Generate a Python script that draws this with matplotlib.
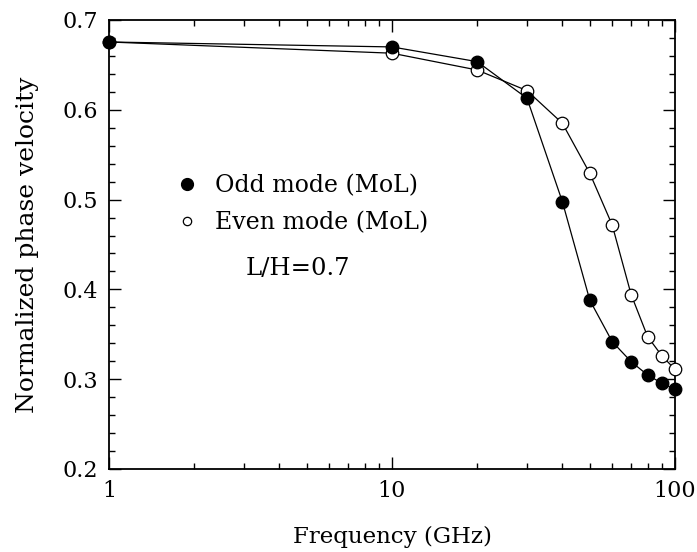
import numpy as np
import matplotlib
matplotlib.use('Agg')
import matplotlib.pyplot as plt
from matplotlib.lines import Line2D
from matplotlib.ticker import FixedLocator, NullFormatter, FixedFormatter

# frequency points (GHz)
freq = [1, 10, 20, 30, 40, 50, 60, 70, 80, 90, 100]

# normalized phase velocity
odd_mode = [0.6755, 0.670, 0.6536, 0.6128, 0.4977, 0.388, 0.3418, 0.3195, 0.3047, 0.2954, 0.2887]
even_mode = [0.6755, 0.663, 0.6443, 0.6213, 0.585, 0.5293, 0.4717, 0.3942, 0.3475, 0.3258, 0.3110]

labels = ['Odd mode (MoL)', 'Even mode (MoL)']
note = 'L/H=0.7'

plt.rcParams['font.family'] = ['DejaVu Serif']

fig = plt.figure(figsize=(6.97, 5.52), dpi=100)
ax = fig.add_axes([0.1564, 0.1504, 0.8120, 0.8134])

# fitted curves
ax.plot(freq, odd_mode, c='k', lw=0.9)
ax.plot(freq, even_mode, c='k', lw=0.9)

# MoL points (filled ones drawn on top, as in the original)
ax.plot(freq, even_mode, 'o', ms=9, mfc='white', mec='k', mew=0.9, ls='none', clip_on=False, zorder=3)
ax.plot(freq, odd_mode, 'o', ms=9, mfc='k', mec='k', ls='none', clip_on=False, zorder=4)

ax.set_xscale('log')
ax.set_xlim(1, 100)
ax.set_ylim(0.2, 0.7)

ax.xaxis.set_major_locator(FixedLocator([1, 10, 100]))
ax.xaxis.set_major_formatter(FixedFormatter(['1', '10', '100']))
minors = [m * d for d in (1, 10) for m in range(2, 10)]
ax.xaxis.set_minor_locator(FixedLocator(minors))
ax.xaxis.set_minor_formatter(NullFormatter())

ax.set_yticks([0.2, 0.3, 0.4, 0.5, 0.6, 0.7])
ax.set_yticklabels(['0.2', '0.3', '0.4', '0.5', '0.6', '0.7'])
ax.set_yticks(np.arange(0.22, 0.7, 0.02), minor=True)

ax.tick_params(which='both', direction='in', top=True, right=True, labelsize=16, width=1)
ax.tick_params(which='major', length=8.5, pad=8)
ax.tick_params(which='minor', length=4.5)
for s in ax.spines.values():
    s.set_linewidth(1.3)

ax.set_xlabel('Frequency (GHz)', fontsize=16.5, labelpad=17)
ax.set_ylabel('Normalized phase velocity', fontsize=18, labelpad=17)

# legend handles: marker only, open one drawn smaller like the original
handles = [Line2D([], [], ls='none', marker='o', ms=8.5, mfc='k', mec='k'),
           Line2D([], [], ls='none', marker='o', ms=6, mfc='white', mec='k', mew=0.9)]
ax.legend(handles, labels, loc='upper left', bbox_to_anchor=(0.121, 0.657), frameon=False,
          fontsize=17, handlelength=0.8, handletextpad=0.8, borderpad=0,
          borderaxespad=0, labelspacing=0.6)

ax.text(4.65, 0.4238, note, fontsize=17.5, ha='center', va='center')

fig.savefig('out.png', dpi=100)
